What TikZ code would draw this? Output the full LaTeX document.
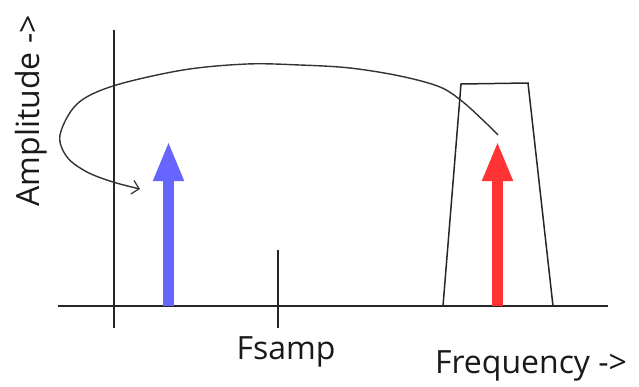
\documentclass[tikz,border=0pt]{standalone}
\usepackage{fontspec}
\setmainfont{Open Sans}
\usetikzlibrary{arrows.meta}
\definecolor{sigblue}{RGB}{102,102,255}
\definecolor{sigred}{RGB}{255,51,51}
\tikzset{
  axis/.style={line width=1.8pt, color=black!85},
  filt/.style={line width=1.5pt, color=black!85, line join=miter},
  sig/.style={line width=10.5pt, -{Triangle[length=40pt,width=28pt]}},
  lbl/.style={font=\fontsize{32}{36}\selectfont, inner sep=0pt, text=black!90},
  loopcurve/.style={line width=1.4pt, color=black!80, -{Straight Barb[length=7pt,width=14pt,line width=1.2pt]}}
}
\begin{document}
\begin{tikzpicture}[x=1pt,y=-1pt]
\useasboundingbox (0,0) rectangle (639,386);
% axes
\coordinate (xl) at (58,306);
\coordinate (xr) at (608,306);
\coordinate (yt) at (114,30);
\coordinate (yb) at (114,328);
\draw[axis] (xl) -- (xr);
\draw[axis] (yt) -- (yb);
% Fsamp tick
\coordinate (ft) at (278,250);
\coordinate (fb) at (278,328);
\draw[axis] (ft) -- (fb);
% filter trapezoid
\coordinate (t1) at (443,306);
\coordinate (t2) at (461,84);
\coordinate (t3) at (528,83);
\coordinate (t4) at (553,306);
\draw[filt] (t1) -- (t2) -- (t3) -- (t4);
% signals
\coordinate (bb) at (168.5,306);
\coordinate (bt) at (168.5,141);
\coordinate (rb) at (497.5,306);
\coordinate (rt) at (497.5,141);
\draw[sig, sigblue] (bb) -- (bt);
\draw[sig, sigred] (rb) -- (rt);
% loop curve
\draw[loopcurve] plot[smooth, tension=0.55] coordinates {(498,135) (487,124) (463,102) (440,87) (400,76) (350,68) (300,65) (247,64) (183,70) (113,86) (77,104) (60,135) (67,157) (87,172) (113,182) (140,189)};
% labels
\node[lbl, rotate=90] (amp) at (31,111) {Amplitude ->};
\node[lbl] (fs) at (286,352) {Fsamp};
\node[lbl] (fq) at (531,366) {Frequency ->};
\end{tikzpicture}
\end{document}
